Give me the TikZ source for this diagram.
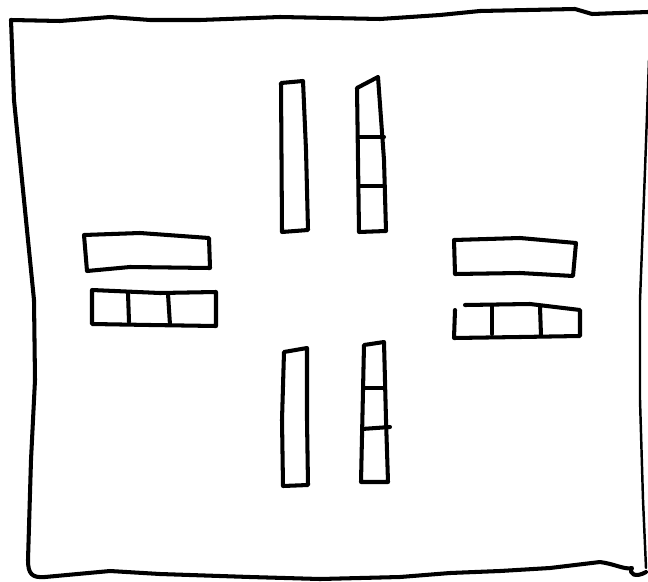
\documentclass[tikz,border=0pt]{standalone}
\usetikzlibrary{calc}

\begin{document}
\begin{tikzpicture}[
  x=0.02cm, y=-0.02cm,
  ink/.style ={draw=black,line width=2.3pt,line join=round,line cap=round},
  thin ink/.style={draw=black,line width=1.4pt,line cap=round},
  bar/.style ={ink},
  split/.style={ink},
]
\useasboundingbox (0,0) rectangle (648,581);

%% =============================================
%% Outer frame
%% =============================================
\draw[ink] (11,20) -- (60,21) -- (110,17) -- (150,20) -- (200,20)
  -- (280,17) -- (380,19) -- (440,15) -- (480,11) -- (575,9)
  -- (592,14) -- (648,12);
\draw[ink] (11,20) -- (14,100) -- (24,200) -- (34,300) -- (35,380)
  -- (31,460) -- (28,560) .. controls (28,574) and (32,578) .. (45,577);
\draw[ink] (45,577) -- (110,571) -- (160,574) -- (250,577) -- (320,579)
  -- (400,577) -- (450,573) -- (500,571) -- (550,568) -- (600,562)
  .. controls (615,564) and (625,570) .. (632,568)
  .. controls (628,574) and (636,578) .. (646,572);
\draw[thin ink] (649,60) -- (645,170) -- (640,300) -- (640,400)
  -- (643,500) -- (646,568);

%% =============================================
%% Upper pair
%% =============================================
\draw[bar] (281,83) -- (303,81) -- (306,150) -- (308,230) -- (282,232) -- cycle;
\draw[bar] (357,88) -- (378,77) -- (384,160) -- (386,231) -- (359,232) -- cycle;
\draw[split] (358,137) -- (384,137);
\draw[split] (359,186) -- (385,186);

%% =============================================
%% Lower pair
%% =============================================
\draw[bar] (284,352) -- (307,348) -- (307,420) -- (308,485) -- (283,486) -- (282,420) -- cycle;
\draw[bar] (364,345) -- (384,342) -- (386,420) -- (388,482) -- (361,482) -- cycle;
\draw[split] (364,388) -- (385,388);
\draw[split] (362,429) -- (390,427);

%% =============================================
%% Left pair
%% =============================================
\draw[bar] (84,235) -- (140,233) -- (209,238) -- (210,268)
  -- (130,267) -- (87,271) -- cycle;
\draw[bar] (92,290) -- (160,293) -- (216,292) -- (216,326)
  -- (150,325) -- (92,324) -- cycle;
\draw[split] (128,293) -- (129,322);
\draw[split] (168,294) -- (170,325);

%% =============================================
%% Right pair
%% =============================================
\draw[bar] (454,240) -- (520,238) -- (576,243) -- (573,276)
  -- (520,273) -- (455,274) -- cycle;
\draw[bar] (465,305) -- (530,304) -- (580,310) -- (580,336)
  -- (520,337) -- (454,338) -- (455,310);
\draw[split] (492,305) -- (492,334);
\draw[split] (540,307) -- (541,336);

\end{tikzpicture}
\end{document}
